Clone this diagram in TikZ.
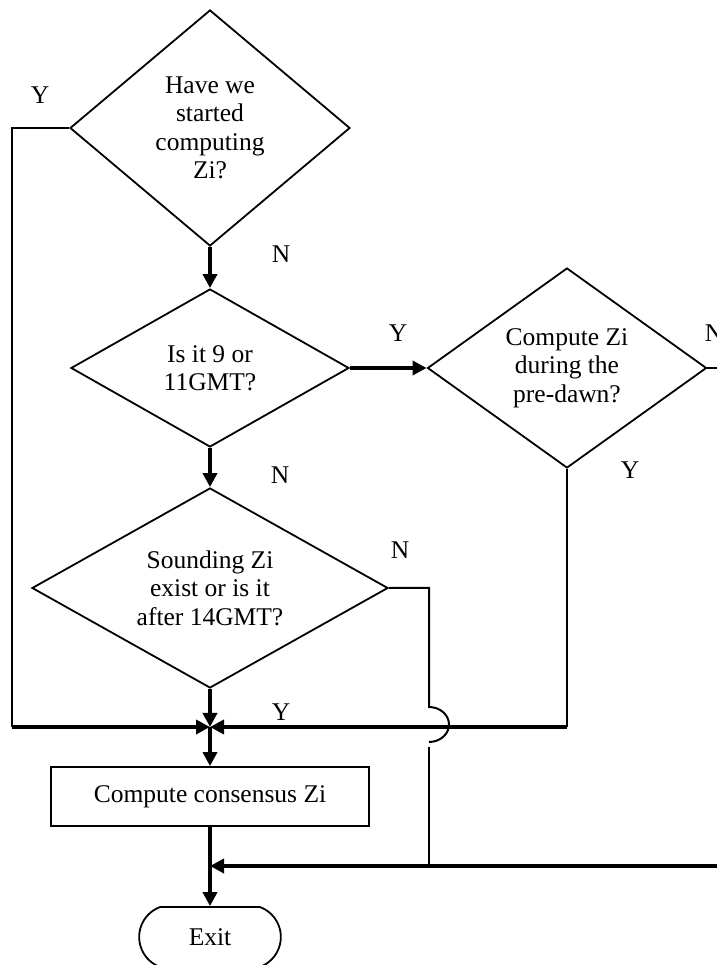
\documentclass[tikz,border=0pt]{standalone}
\usepackage{fontspec}
\setmainfont{Liberation Serif}
\usetikzlibrary{shapes.geometric,shapes.misc,arrows.meta}

\begin{document}
\begin{tikzpicture}[x=0.5pt,y=0.5pt,
		every node/.style={font=\fontsize{12.75}{14.25}\selectfont},
		decision/.style={diamond,draw,line width=0.9pt,inner sep=0pt,align=center},
		flow/.style={line width=2pt,-{Triangle[length=7pt,width=7pt]}},
		thinline/.style={line width=1pt}]
		\useasboundingbox (0,0) rectangle (717,965);
		% decisions
		\node[decision,minimum width=140pt,minimum height=118pt,shape aspect=1.19] (started) at (210,837) {Have we\\started\\computing\\Zi?};
		\node[decision,minimum width=139pt,minimum height=79pt,shape aspect=1.76] (hour) at (210,597) {Is it 9 or\\11GMT?};
		\node[decision,minimum width=139.5pt,minimum height=100pt,shape aspect=1.4] (predawn) at (567,597) {Compute Zi\\during the\\pre-dawn?};
		\node[decision,minimum width=178pt,minimum height=100pt,shape aspect=1.78] (sounding) at (210,377) {Sounding Zi\\exist or is it\\after 14GMT?};
		% process and end
		\node[draw,line width=0.9pt,minimum width=159pt,minimum height=29.5pt] (consensus) at (210,168.5) {Compute consensus Zi};
		\node[draw,line width=0.9pt,rounded rectangle,rounded rectangle arc length=140,minimum width=77.5pt,minimum height=30pt] (exit) at (210,28) {Exit};
		% bends and joins
		\coordinate (join) at (210,238);
		\coordinate (leftup) at (12,837);
		\coordinate (leftdown) at (12,238);
		\coordinate (predawnend) at (567,238);
		\coordinate (offright) at (725,597);
		\coordinate (nturn) at (429,377);
		\coordinate (jumptop) at (429,258);
		\coordinate (gapend) at (429,218);
		\coordinate (lowjoin) at (429,99);
		\coordinate (offright2) at (725,99);
		\coordinate (exitjoin) at (210,99);
		% connectors
		\draw[flow] (started.south) -- (hour.north);
		\draw[flow] (hour.south) -- (sounding.north);
		\draw[flow] (hour.east) -- (predawn.west);
		\draw[thinline] (predawn.east) -- (offright);
		\draw[flow] (sounding.south) -- (join);
		\draw[thinline] (started.west) -- (leftup) -- (leftdown);
		\draw[flow] (leftdown) -- (join);
		\draw[thinline] (predawn.south) -- (predawnend);
		\draw[flow] (predawnend) -- (join);
		\draw[flow] (join) -- (consensus.north);
		\draw[thinline] (sounding.east) -- (nturn) -- (jumptop) arc[start angle=90,end angle=-90,x radius=10pt,y radius=8.75pt];
		\draw[thinline] (gapend) -- (lowjoin);
		\draw[flow] (offright2) -- (exitjoin);
		\draw[flow] (consensus.south) -- (exit.north);
		% answers
		\node (ystarted) at (40,870) {Y};
		\node (nstarted) at (281,711) {N};
		\node (yhour) at (398,632) {Y};
		\node (nhour) at (280,490) {N};
		\node (npredawn) at (714,632) {N};
		\node (ypredawn) at (630,495) {Y};
		\node (nsounding) at (400,415) {N};
		\node (ysounding) at (281,253) {Y};
\end{tikzpicture}
\end{document}
